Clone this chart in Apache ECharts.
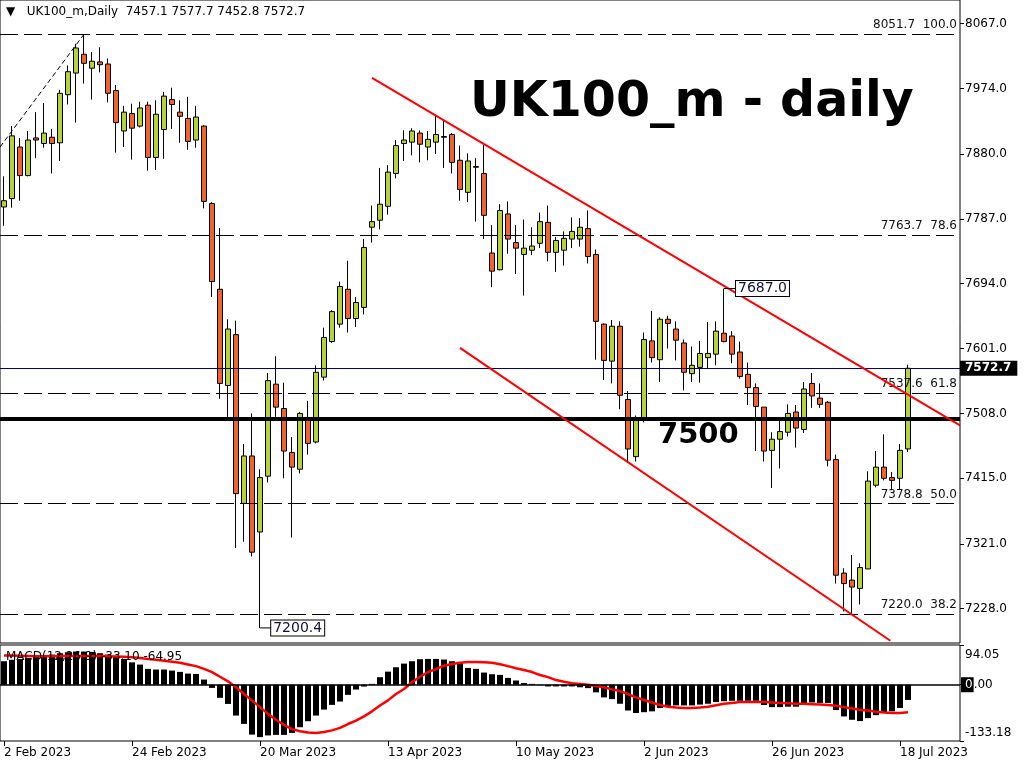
<!DOCTYPE html>
<html><head><meta charset="utf-8">
<script src="https://cdn.jsdelivr.net/npm/echarts@6/dist/echarts.min.js"></script>
<style>html,body{margin:0;padding:0;background:#fff}#c{width:1024px;height:768px}</style>
</head><body><div id="c"></div>
<script>
const dates = ['2 Feb 2023','3 Feb 2023','6 Feb 2023','7 Feb 2023','8 Feb 2023','9 Feb 2023','10 Feb 2023','13 Feb 2023','14 Feb 2023','15 Feb 2023','16 Feb 2023','17 Feb 2023','20 Feb 2023','21 Feb 2023','22 Feb 2023','23 Feb 2023','24 Feb 2023',
'27 Feb 2023','28 Feb 2023','1 Mar 2023','2 Mar 2023','3 Mar 2023','6 Mar 2023','7 Mar 2023','8 Mar 2023','9 Mar 2023','10 Mar 2023','13 Mar 2023','14 Mar 2023','15 Mar 2023','16 Mar 2023','17 Mar 2023','20 Mar 2023',
'21 Mar 2023','22 Mar 2023','23 Mar 2023','24 Mar 2023','27 Mar 2023','28 Mar 2023','29 Mar 2023','30 Mar 2023','31 Mar 2023','3 Apr 2023','4 Apr 2023','5 Apr 2023','6 Apr 2023','11 Apr 2023','12 Apr 2023','13 Apr 2023',
'17 Apr 2023','18 Apr 2023','19 Apr 2023','20 Apr 2023','21 Apr 2023','24 Apr 2023','25 Apr 2023','26 Apr 2023','27 Apr 2023','28 Apr 2023','2 May 2023','3 May 2023','4 May 2023','5 May 2023','9 May 2023','10 May 2023',
'11 May 2023','12 May 2023','15 May 2023','16 May 2023','17 May 2023','18 May 2023','19 May 2023','22 May 2023','23 May 2023','24 May 2023','25 May 2023','26 May 2023','30 May 2023','31 May 2023','1 Jun 2023','2 Jun 2023',
'5 Jun 2023','6 Jun 2023','7 Jun 2023','8 Jun 2023','9 Jun 2023','12 Jun 2023','13 Jun 2023','14 Jun 2023','15 Jun 2023','16 Jun 2023','19 Jun 2023','20 Jun 2023','21 Jun 2023','22 Jun 2023','23 Jun 2023','26 Jun 2023',
'27 Jun 2023','28 Jun 2023','29 Jun 2023','30 Jun 2023','3 Jul 2023','4 Jul 2023','5 Jul 2023','6 Jul 2023','7 Jul 2023','10 Jul 2023','11 Jul 2023','12 Jul 2023','13 Jul 2023','14 Jul 2023','17 Jul 2023','18 Jul 2023',
'19 Jul 2023'];

const opens = [7804,7816,7890,7849,7903,7895,7904,7896,7965,7996,8023,8003,8012,8009,7971,7913,7938,7920,7950,7875,
7915,7958,7940,7931,7900,7920,7809,7686,7548,7621,7379,7447,7338,7418,7550,7515,7452,7428,7501,7467,
7560,7611,7636,7686,7644,7660,7775,7785,7805,7852,7895,7897,7910,7890,7897,7905,7908,7871,7825,7862,
7852,7738,7714,7794,7753,7736,7742,7752,7782,7739,7742,7758,7758,7773,7736,7636,7583,7633,7528,7446,
7501,7612,7585,7643,7629,7609,7565,7574,7588,7593,7623,7619,7596,7564,7545,7517,7455,7471,7481,7510,
7485,7551,7530,7524,7442,7279,7269,7257,7285,7405,7431,7416,7415,7457.1];
const highs = [7848,7920,7903,7913,7940,7953,7916,7972,8007,8038,8051.7,8026,8033,8017,7979,7949,7952,7955,7955,7957,
7969,7975,7957,7962,7949,7921,7811,7774,7643,7641,7464,7508,7428,7566,7590,7552,7474,7510,7526,7577,
7631,7656,7697,7727,7675,7758,7806,7860,7864,7900,7914,7917,7914,7913,7936,7928,7910,7892,7881,7874,
7893,7778,7808,7812,7778,7786,7775,7796,7806,7761,7769,7789,7788,7799,7743,7637,7642,7640,7540,7505,
7624,7655,7646,7648,7640,7614,7604,7612,7639,7640,7687.0,7626,7611,7581,7551,7517,7481,7497,7521,7520,
7553,7566,7551,7526,7449,7286,7305,7293,7425,7454,7478,7424,7464,7577.7];
const lows = [7777,7803,7813,7848,7874,7889,7852,7870,7951,7925,7981,7958,7997,7954,7882,7890,7872,7918,7856,7857,
7873,7916,7896,7886,7889,7802,7675,7529,7503,7315,7324,7303,7200.4,7409,7503,7415,7330,7422,7449,7465,
7555,7609,7631,7624,7632,7650,7753,7772,7793,7845,7870,7878,7868,7871,7880,7860,7852,7813,7811,7783,
7758,7689,7713,7737,7708,7677,7735,7745,7726,7711,7720,7745,7747,7723,7585,7556,7551,7514,7437,7439,
7495,7581,7553,7601,7584,7541,7553,7552,7573,7577,7610,7580,7558,7520,7454,7439,7401,7429,7475,7459,
7480,7516,7516,7432,7264,7224,7220,7234,7285,7402,7412,7399,7399,7452.8];
const closes = [7813,7906,7849,7900,7900,7910,7895,7967,7998,8032,8010,8013,8008,7967,7925,7940,7917,7946,7875,7937,
7963,7951,7934,7898,7933,7812,7697,7551,7629,7393,7447,7309,7416,7555,7517,7454,7431,7508,7465,7567,
7617,7654,7690,7644,7667,7746,7783,7808,7854,7892,7900,7913,7894,7901,7908,7904,7868,7829,7870,7861,
7792,7712,7799,7758,7745,7745,7748,7783,7739,7756,7759,7769,7775,7733,7640,7584,7633,7534,7457,7502,
7614,7588,7643,7637,7613,7567,7577,7594,7594,7626,7611,7593,7561,7545,7518,7454,7471,7482,7508,7487,
7543,7533,7521,7441,7276,7264,7259,7287,7411,7431,7415,7412,7455,7572.7];

const macdHist = [55.6,59,61,63.5,66.7,69,71.4,74.6,77,78.5,78.5,77.7,74.6,71.4,67.5,61,53,47.7,37.5,36,
36,33.5,30.4,26.4,25.6,12.2,-7.5,-31,-45.4,-73,-92.7,-118,-124,-120,-118.7,-118.7,-114,-100.6,-86.4,-73,
-58.8,-47.7,-39.8,-24,-11.4,-4.3,2,17.8,31,41.4,50,55.6,60.4,61.1,61.1,59.6,55.6,50.9,39.8,37.5,
28.8,24.9,23.3,16.2,10,4,2,-1,-4,-4,-4,-4,-6,-8,-18,-30,-34,-45,-61,-67,
-65,-63,-55,-50,-49,-49,-49,-47,-45,-41,-39,-38,-38,-38,-38,-48,-53,-53,-52,-52,
-45,-42,-43,-43,-60,-75,-83,-86,-79,-72,-67,-63,-55,-36];
const macdSignal = [69,69,68.5,68,67.5,67.5,67.5,68,68,68,68,68,68,67.5,67,66,65,63,61,59,
57,54.5,52,48,44,37.5,30,19,8,-6,-22,-37,-53,-69,-83,-95,-105,-110,-113,-114,
-112,-108,-102,-93,-85,-75,-63,-49,-37,-22,-10,6,19,30,37,45,49,52,54,54,
53,52,48.5,44,39,35,30,23,18,11,7,3.5,2,0,-3,-6,-11,-15,-22,-30,
-36,-42,-48,-52,-54,-55,-55,-54,-52,-48.5,-45,-43,-41,-41,-41,-41,-42,-43,-44,-45,
-45,-46,-47,-48,-50,-53,-56,-59,-61,-64,-66,-67,-67,-64.95];

const priceTicks = [8067,7974,7880,7787,7694,7601,7508,7415,7321,7228];
const fibLevels = [8051.7,7763.7,7537.6,7378.8,7220.0];
const fibPercents = ['100.0','78.6','61.8','50.0','38.2'];
const keyLevel = 7500;
const upperChannel = [[46,7989],[119.5,7491]];
const lowerChannel = [[57,7602],[110.8,7182]];
const fibTrend = [[-0.5,7890],[10,8051.7]];
const calloutHigh = [[90,7687.0],[91.5,7687.0]];
const calloutLow = [[32,7200.4],[33.4,7200.4]];
const macdTicks = [94.05,0,-133.18];
const macdText = 'MACD(12,26,9) -33.10 -64.95';
const emptySlots = ['','','','','',''];

const FONT = 'DejaVu Sans';
const cats = dates.concat(emptySlots);
const n = dates.length;
const lastO = opens[n-1], lastH = highs[n-1], lastL = lows[n-1], lastC = closes[n-1];
const candles = dates.map((d,i)=>[opens[i],closes[i],lows[i],highs[i]]);
const showIdx = (i)=> i % 16 === 0 && i < n;
const pMin = 7178.8, pMax = 8100.8;
const mMin = macdTicks[2], mMax = macdTicks[0];

const fibMarks = fibLevels.map((v,k)=>({
  yAxis: v,
  lineStyle:{color:'#000',width:1,type:[18,6]},
  label:{show:true,position:'insideEndTop',distance:3,formatter:v.toFixed(1)+'  '+fibPercents[k],
    color:'#111',fontFamily:FONT,fontSize:12}
}));

const chart = echarts.init(document.getElementById('c'), null, {width:1024,height:768});
const calloutLabel = (txt)=>({show:true,formatter:txt,distance:0,color:'#101040',fontFamily:FONT,fontSize:14,
  backgroundColor:'#fff',borderColor:'#000',borderWidth:1,padding:[1,2,0,2]});

chart.setOption({
  animation:false,
  backgroundColor:'#fff',
  title:[
    {text:'\u25BC   UK100_m,Daily  '+lastO.toFixed(1)+' '+lastH.toFixed(1)+' '+lastL.toFixed(1)+' '+lastC.toFixed(1),
     left:6,top:6,padding:0,textStyle:{fontFamily:FONT,fontSize:12,fontWeight:'normal',color:'#000'}},
    {text:'UK100_m - daily',left:470,top:79,padding:0,textStyle:{fontFamily:FONT,fontSize:49,fontWeight:'bold',color:'#000'}},
    {text:String(keyLevel),left:658,top:421,padding:0,textStyle:{fontFamily:FONT,fontSize:29,fontWeight:'bold',color:'#000'}},
    {text:macdText,left:6,top:651,padding:0,textStyle:{fontFamily:FONT,fontSize:12,fontWeight:'normal',color:'#000'}}
  ],
  grid:[
    {left:-1,right:64,top:0,height:643,show:true,borderColor:'#000',borderWidth:1,backgroundColor:'transparent'},
    {left:-1,right:64,top:645,height:96,show:true,borderColor:'#000',borderWidth:1,backgroundColor:'transparent'}
  ],
  xAxis:[
    {type:'category',gridIndex:0,data:cats,boundaryGap:true,axisLine:{show:false,onZero:false},axisTick:{show:false},axisLabel:{show:false},splitLine:{show:false}},
    {type:'category',gridIndex:1,data:cats,boundaryGap:true,axisLine:{show:false,onZero:false},
      axisTick:{show:true,alignWithLabel:true,interval:showIdx,length:5,lineStyle:{color:'#000'}},
      axisLabel:{show:true,interval:showIdx,align:'left',color:'#000',fontFamily:FONT,fontSize:12,margin:6},splitLine:{show:false}},
    {type:'value',gridIndex:0,min:-0.5,max:cats.length-0.5,show:false,axisLine:{onZero:false}}
  ],
  yAxis:[
    {type:'value',gridIndex:0,position:'right',min:pMin,max:pMax,scale:true,splitLine:{show:false},
      axisLine:{show:false,onZero:false},
      axisTick:{show:true,customValues:priceTicks,length:4,lineStyle:{color:'#000'}},
      axisLabel:{customValues:priceTicks,formatter:(v)=>v.toFixed(1),color:'#000',fontFamily:FONT,fontSize:12,margin:5}},
    {type:'value',gridIndex:0,position:'right',min:pMin,max:pMax,scale:true,splitLine:{show:false},
      axisLine:{show:false,onZero:false},axisTick:{show:false},
      axisLabel:{customValues:[lastC],formatter:(v)=>v.toFixed(1),color:'#fff',backgroundColor:'#000',fontWeight:'bold',
        fontFamily:FONT,fontSize:12,margin:0,padding:[2,6,1,5]}},
    {type:'value',gridIndex:1,position:'right',min:mMin,max:mMax,splitLine:{show:false},
      axisLine:{show:false,onZero:false},axisTick:{show:true,customValues:macdTicks,length:4,lineStyle:{color:'#000'}},
      axisLabel:{customValues:[0],formatter:()=>'{a|0}{b|.00}',margin:1,
        rich:{a:{color:'#fff',backgroundColor:'#000',fontFamily:FONT,fontSize:12,padding:[2,1,1,4]},
              b:{color:'#000',fontFamily:FONT,fontSize:12}}}},
    {type:'value',gridIndex:1,position:'right',min:mMin,max:mMax,splitLine:{show:false},
      axisLine:{show:false,onZero:false},axisTick:{show:false},
      axisLabel:{customValues:[mMax],formatter:(v)=>v.toFixed(2),verticalAlign:'top',padding:[4,0,0,0],color:'#000',fontFamily:FONT,fontSize:12,margin:5}},
    {type:'value',gridIndex:1,position:'right',min:mMin,max:mMax,splitLine:{show:false},
      axisLine:{show:false,onZero:false},axisTick:{show:false},
      axisLabel:{customValues:[mMin],formatter:(v)=>v.toFixed(2),verticalAlign:'bottom',padding:[0,0,2,0],color:'#000',fontFamily:FONT,fontSize:12,margin:5}}
  ],
  series:[
    {type:'candlestick',name:'UK100',xAxisIndex:0,yAxisIndex:0,data:candles,barWidth:5,
      itemStyle:{color:'#B5D334',color0:'#F2622A',borderColor:'#000',borderColor0:'#000',borderColorDoji:'#000',borderWidth:1},
      markLine:{silent:true,symbol:['none','none'],
        data:fibMarks.concat([
          {yAxis:lastC,lineStyle:{color:'#000080',width:1,type:'solid'},label:{show:false}},
          {yAxis:keyLevel,lineStyle:{color:'#000',width:4,type:'solid'},label:{show:false}}
        ])}},
    {type:'line',xAxisIndex:2,yAxisIndex:0,data:upperChannel,symbol:'none',silent:true,lineStyle:{color:'#FF0000',width:2},z:5},
    {type:'line',xAxisIndex:2,yAxisIndex:0,data:lowerChannel,symbol:'none',silent:true,lineStyle:{color:'#FF0000',width:2},z:5},
    {type:'line',xAxisIndex:2,yAxisIndex:0,data:fibTrend,symbol:'none',silent:true,lineStyle:{color:'#000',width:1,type:[5,3]},z:5},
    {type:'line',xAxisIndex:2,yAxisIndex:0,data:calloutHigh,symbol:'none',silent:true,lineStyle:{color:'#000',width:1},z:6,
      endLabel:calloutLabel(calloutHigh[0][1].toFixed(1))},
    {type:'line',xAxisIndex:2,yAxisIndex:0,data:calloutLow,symbol:'none',silent:true,lineStyle:{color:'#000',width:1},z:6,
      endLabel:calloutLabel(calloutLow[0][1].toFixed(1))},
    {type:'bar',xAxisIndex:1,yAxisIndex:2,data:macdHist,barWidth:6,itemStyle:{color:'#000'},silent:true,
      markLine:{silent:true,symbol:['none','none'],data:[{yAxis:0,lineStyle:{color:'#000',width:1.5,type:'solid'},label:{show:false}}]}},
    {type:'line',xAxisIndex:1,yAxisIndex:2,data:macdSignal,symbol:'none',silent:true,lineStyle:{color:'#FF0000',width:2.5},z:4}
  ]
});
</script></body></html>
